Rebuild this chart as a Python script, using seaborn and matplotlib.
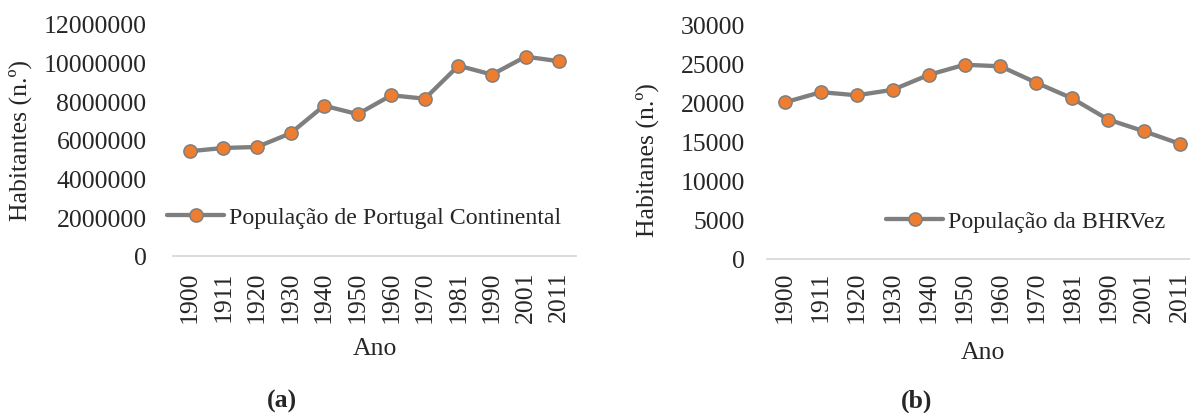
import matplotlib
matplotlib.use('Agg')
import matplotlib.pyplot as plt
import seaborn as sns
import pandas as pd

# dados
anos = ['1900', '1911', '1920', '1930', '1940', '1950', '1960', '1970', '1981', '1990', '2001', '2011']
pop_portugal = [5410000, 5580000, 5630000, 6340000, 7770000, 7330000, 8310000, 8130000,
                9840000, 9380000, 10310000, 10070000]
pop_bhrvez = [20000, 21300, 20900, 21600, 23500, 24800, 24600, 22500, 20500, 17800, 16300, 14700]

sns.set_style('white')
plt.rcParams['font.family'] = ['Liberation Serif', 'DejaVu Serif']

W, H = 1190, 414
fig = plt.figure(figsize=(W / 100, H / 100), dpi=100)

cinza = '#7f7f7f'
laranja = '#ed7d31'
fs = 18.5      # eixos
fs_leg = 17.2  # legenda


def painel(rect, valores, ymax, ystep, ylabel, legenda, ylab_pos, xlab_pos, ypad, xpad, leg_xy):
    ax = fig.add_axes(rect)
    df = pd.DataFrame({'Ano': anos, 'Pop': valores})
    sns.lineplot(data=df, x='Ano', y='Pop', ax=ax, color=cinza, linewidth=3.1,
                 marker='o', markersize=9.5, markerfacecolor=laranja,
                 markeredgecolor=cinza, markeredgewidth=1.1, label=legenda)
    ax.set_xlim(-0.5, len(anos) - 0.5)
    ax.set_ylim(0, ymax)
    ax.set_yticks(range(0, ymax + 1, ystep))
    ax.set_yticklabels([str(v) for v in range(0, ymax + 1, ystep)])
    ax.tick_params(axis='y', length=0, pad=ypad, labelsize=fs)
    ax.tick_params(axis='x', length=0, pad=xpad, labelsize=fs, labelrotation=90)
    for s in ['top', 'right', 'left']:
        ax.spines[s].set_visible(False)
    ax.spines['bottom'].set_color('#d9d9d9')
    ax.spines['bottom'].set_linewidth(1.3)
    ax.set_ylabel(ylabel, fontsize=fs)
    ax.set_xlabel('Ano', fontsize=fs)
    ax.yaxis.set_label_coords(*ylab_pos)
    ax.xaxis.set_label_coords(*xlab_pos)
    ax.legend(loc='center left', bbox_to_anchor=(leg_xy[0] / W, 1 - leg_xy[1] / H),
              bbox_transform=fig.transFigure, frameon=False, fontsize=fs_leg,
              borderpad=0, borderaxespad=0, handlelength=2.4, handletextpad=0.2)
    return ax


painel([173 / W, 1 - 256.7 / H, 403 / W, 231.7 / H], pop_portugal, 12000000, 2000000,
       'Habitantes (n.º)', 'População de Portugal Continental',
       (-0.35, 0.5), (0.5, -0.35), 19, 11, (167, 218))

painel([767 / W, 1 - 260 / H, 431 / W, 235 / H], pop_bhrvez, 30000, 5000,
       'Habitanes (n.º)', 'População da BHRVez',
       (-0.25, 0.426), (0.5, -0.35), 16, 8.6, (886, 222))

fig.text(282 / W, 1 - 401 / H, '(a)', ha='center', va='center', fontsize=fs, fontweight='bold')
fig.text(917 / W, 1 - 401 / H, '(b)', ha='center', va='center', fontsize=fs, fontweight='bold')

fig.savefig('out.png', dpi=100)
